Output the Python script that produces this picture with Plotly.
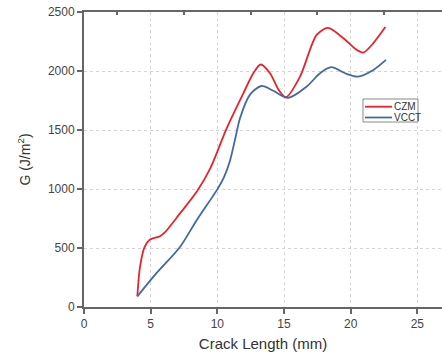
import plotly.graph_objects as go

czm_x = [4.0, 4.2, 4.55, 4.95, 5.7, 6.1, 7.2, 8.45, 9.45, 10.7, 11.95, 12.7, 13.25, 13.95, 14.6, 15.15, 16.2, 17.45, 18.3, 19.45, 20.45, 20.95, 21.7, 22.6]
czm_y = [90, 340, 510, 572, 600, 637, 793, 976, 1170, 1514, 1811, 1981, 2055, 1981, 1840, 1778, 1952, 2306, 2365, 2278, 2179, 2156, 2236, 2372]
vcct_x = [4.0, 5.45, 7.2, 8.45, 10.0, 10.5, 10.95, 11.35, 11.7, 12.45, 13.3, 14.2, 15.3, 16.7, 17.7, 18.55, 19.7, 20.55, 21.7, 22.65]
vcct_y = [90, 289, 509, 736, 997, 1100, 1240, 1430, 1600, 1800, 1873, 1833, 1772, 1868, 1981, 2032, 1975, 1952, 2009, 2094]

x_ticks = [0, 5, 10, 15, 20, 25]
y_ticks = [0, 500, 1000, 1500, 2000, 2500]

red = "#e8242b"
blue = "#3f6aa6"

fig = go.Figure()
fig.add_trace(go.Scatter(x=czm_x, y=czm_y, mode="lines", name="CZM",
                         line=dict(color=red, width=1.8, shape="spline", smoothing=0.8)))
fig.add_trace(go.Scatter(x=vcct_x, y=vcct_y, mode="lines", name="VCCT",
                         line=dict(color=blue, width=1.8, shape="spline", smoothing=0.8)))
fig.add_trace(go.Scatter(x=[0], y=[0], xaxis="x2", mode="markers", marker=dict(opacity=0),
                         showlegend=False, hoverinfo="skip"))

L, T, W, H = 84, 12, 358, 295


def px(xp):
    return (xp - L) / W


def py(yp):
    return (T + H - yp) / H


axis_col = "#666666"
shapes = [
    dict(type="rect", xref="paper", yref="paper", x0=px(363), x1=px(418), y0=py(122), y1=py(99),
         line=dict(color="#888888", width=1), fillcolor="white", layer="above"),
    dict(type="line", xref="paper", yref="paper", x0=px(365), x1=px(392), y0=py(106.7), y1=py(106.7),
         line=dict(color=red, width=1.8), layer="above"),
    dict(type="line", xref="paper", yref="paper", x0=px(365), x1=px(392), y0=py(117.5), y1=py(117.5),
         line=dict(color=blue, width=1.8), layer="above"),
]
annotations = [
    dict(text="CZM", xref="paper", yref="paper", x=px(392), y=py(106.7), xanchor="left", yanchor="middle",
         showarrow=False, font=dict(size=10, color="#333333")),
    dict(text="VCCT", xref="paper", yref="paper", x=px(392), y=py(117.5), xanchor="left", yanchor="middle",
         showarrow=False, font=dict(size=10, color="#333333")),
]

fig.update_layout(
    width=442, height=358,
    margin=dict(l=L, r=0, t=T, b=358 - T - H),
    paper_bgcolor="white", plot_bgcolor="white",
    font=dict(family="Liberation Sans, Arial, sans-serif", color="#333333"),
    showlegend=False,
    shapes=shapes, annotations=annotations,
    xaxis=dict(range=[0, 26.85], tickvals=x_ticks, ticks="outside", ticklen=5, tickwidth=1.5,
               tickcolor=axis_col, showline=True, linecolor=axis_col, linewidth=2,
               showgrid=True, gridcolor="#d4d4d4", griddash="dot", gridwidth=1,
               zeroline=False, tickfont=dict(size=12, color="#444444"),
               title=dict(text="Crack Length (mm)", font=dict(size=15, color="#333333"), standoff=8)),
    xaxis2=dict(range=[0, 26.85], overlaying="x", side="top", tickvals=[2.5, 7.5, 12.5, 17.5, 22.5],
                ticks="inside", ticklen=3, tickwidth=1.5, tickcolor=axis_col, showticklabels=False,
                showline=True, linecolor=axis_col, linewidth=2, showgrid=False, zeroline=False),
    yaxis=dict(range=[0, 2500], tickvals=y_ticks, ticks="outside", ticklen=5, tickwidth=1.5,
               tickcolor=axis_col, showline=True, linecolor=axis_col, linewidth=2,
               showgrid=True, gridcolor="#d4d4d4", griddash="dot", gridwidth=1,
               zeroline=False, tickfont=dict(size=12, color="#444444"),
               title=dict(text="G (J/m<sup>2</sup>)", font=dict(size=14, color="#333333"), standoff=14)),
)
fig.write_html("out.html")
